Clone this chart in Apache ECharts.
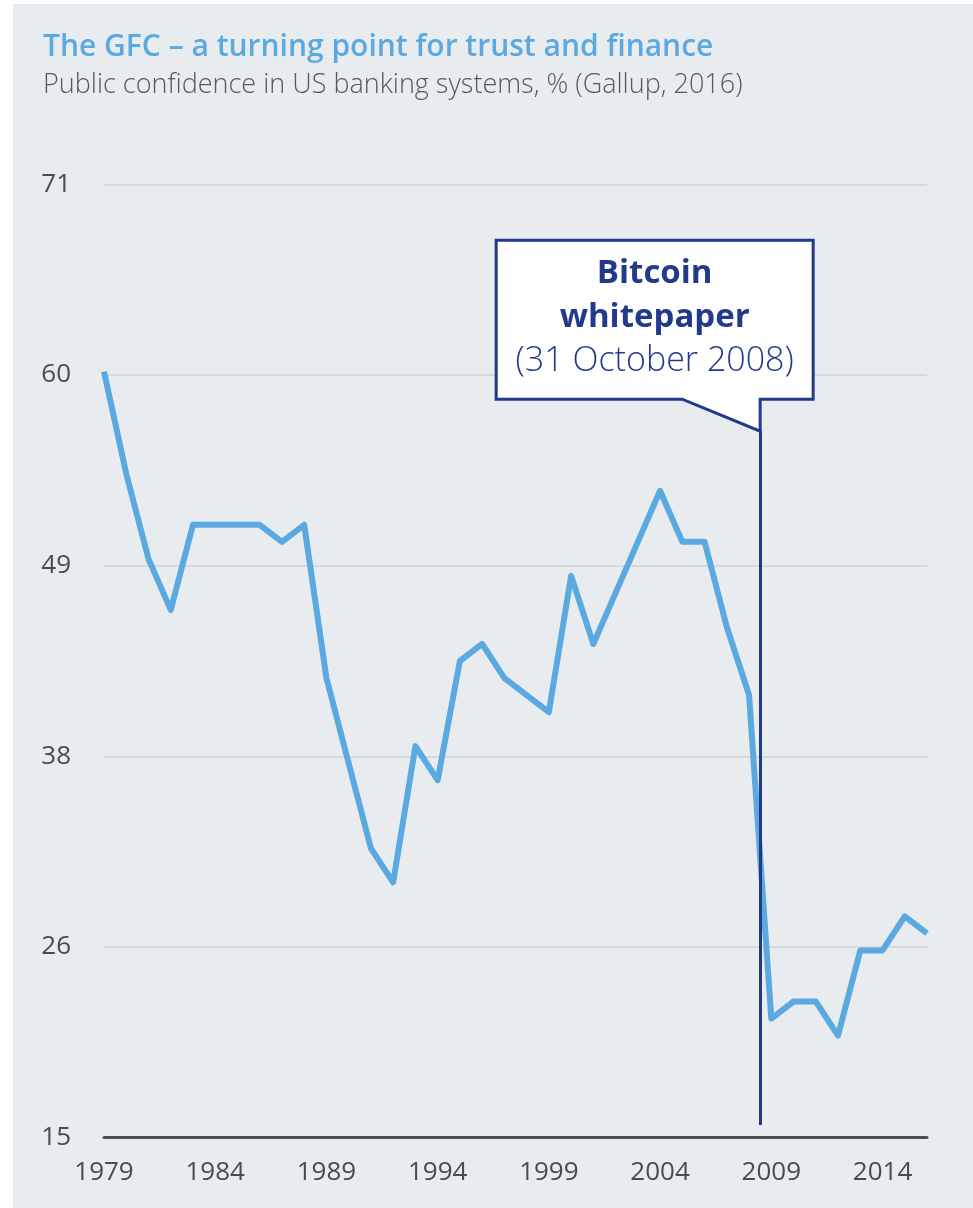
<!DOCTYPE html>
<html>
<head>
<meta charset="utf-8">
<script src="https://cdn.jsdelivr.net/npm/echarts@6/dist/echarts.min.js"></script>
<style>
  html, body { margin: 0; padding: 0; background: #ffffff; }
  #wrap { position: relative; width: 973px; height: 1208px; }
  #panel { position: absolute; left: 13px; top: 4px; right: 0; bottom: 0; background: #e8ecee; }
  #chart { position: absolute; left: 0; top: 0; width: 973px; height: 1208px; }
</style>
</head>
<body>
<div id="wrap"><div id="panel"></div><div id="chart"></div></div>
<script>
// ---- Data ----
const years = [1979,1980,1981,1982,1983,1984,1985,1986,1987,1988,1989,1990,1991,1992,1993,1994,1995,1996,1997,1998,1999,2000,2001,2002,2003,2004,2005,2006,2007,2008,2009,2010,2011,2012,2013,2014,2015,2016];
const confidence = [60,54,49,46,51,51,51,51,50,51,42,37,32,30,38,36,43,44,42,41,40,48,44,47,50,53,50,50,45,41,22,23,23,21,26,26,28,27];
const yTicks = [15, 26, 38, 49, 60, 71];
const xTickYears = [1979,1984,1989,1994,1999,2004,2009,2014];
const titleText = 'The GFC \u2013 a turning point for trust and finance';
const subtitleText = 'Public confidence in US banking systems, % (Gallup, 2016)';
const calloutLines = ['Bitcoin', 'whitepaper', '(31 October 2008)'];
const whitepaperX = 2008.5;       // position of the marker on the year axis
const markerBottom = 15.75;       // marker line extent (value axis units)
const markerTop = 56.5;

const FONT = '"Open Sans", "Noto Sans", sans-serif';
const NAVY = '#23398a';
const BLUE = '#5aa9e0';
const LABEL = '#474c51';

const chart = echarts.init(document.getElementById('chart'), null, { renderer: 'canvas' });
const yMin = yTicks[0], yMax = yTicks[yTicks.length - 1];
const yInterval = (yMax - yMin) / (yTicks.length - 1);

const option = {
  backgroundColor: 'transparent',
  animation: false,
  title: {
    text: titleText,
    subtext: subtitleText,
    left: 38, top: 27,
    itemGap: 10,
    textStyle: { fontFamily: FONT, fontSize: 30, fontWeight: 600, color: BLUE },
    subtextStyle: { fontFamily: FONT, fontSize: 27, fontWeight: 300, color: '#555a5e' }
  },
  grid: { left: 104, right: 46, top: 184.3, bottom: 70.3, containLabel: false },
  xAxis: {
    type: 'value',
    min: years[0], max: years[years.length - 1],
    interval: 5,
    axisLine: { show: true, lineStyle: { color: '#4a4f53', width: 3 } },
    axisTick: { show: false },
    splitLine: { show: false },
    axisLabel: {
      margin: 22,
      fontFamily: FONT, fontSize: 26, color: LABEL,
      formatter: v => xTickYears.indexOf(Math.round(v)) >= 0 ? String(Math.round(v)) : ''
    }
  },
  yAxis: {
    type: 'value',
    min: yMin, max: yMax, interval: yInterval,
    axisLine: { show: false },
    axisTick: { show: false },
    splitLine: { show: true, lineStyle: { color: '#d8d9da', width: 2 } },
    axisLabel: {
      margin: 33,
      fontFamily: FONT, fontSize: 26, color: LABEL,
      formatter: v => {
        let best = yTicks[0];
        yTicks.forEach(t => { if (Math.abs(t - v) < Math.abs(best - v)) best = t; });
        return String(best);
      }
    }
  },
  series: [{
    type: 'line',
    data: years.map((y, i) => [y, confidence[i]]),
    showSymbol: false,
    lineStyle: { color: BLUE, width: 6, join: 'round', cap: 'butt' },
    z: 3,
    markLine: {
      silent: true,
      symbol: ['none', 'none'],
      label: { show: false },
      lineStyle: { color: NAVY, width: 3, type: 'solid' },
      data: [[{ coord: [whitepaperX, markerBottom] }, { coord: [whitepaperX, markerTop] }]],
      z: 5
    }
  }]
};
chart.setOption(option);

function drawCallout() {
  const tip = chart.convertToPixel({ gridIndex: 0 }, [whitepaperX, markerTop]);
  const tx = tip[0], ty = tip[1];
  const left = tx - 264, right = tx + 53, top = ty - 191, bottom = ty - 32;
  const cx = (left + right) / 2;
  chart.setOption({
    graphic: [
      {
        type: 'polygon', z: 100,
        shape: { points: [[left, top], [right, top], [right, bottom], [tx, bottom], [tx, ty], [tx - 78, bottom], [left, bottom]] },
        style: { fill: '#ffffff', stroke: NAVY, lineWidth: 3 }
      },
      {
        type: 'text', z: 101, x: cx, y: top + 33,
        style: { text: calloutLines[0], fill: NAVY, font: '700 33px ' + FONT, align: 'center', verticalAlign: 'middle' }
      },
      {
        type: 'text', z: 101, x: cx, y: top + 77,
        style: { text: calloutLines[1], fill: NAVY, font: '700 33px ' + FONT, align: 'center', verticalAlign: 'middle' }
      },
      {
        type: 'text', z: 101, x: cx, y: top + 121,
        style: { text: calloutLines[2], fill: NAVY, font: '300 34px ' + FONT, align: 'center', verticalAlign: 'middle' }
      }
    ]
  });
}
drawCallout();
</script>
</body>
</html>
